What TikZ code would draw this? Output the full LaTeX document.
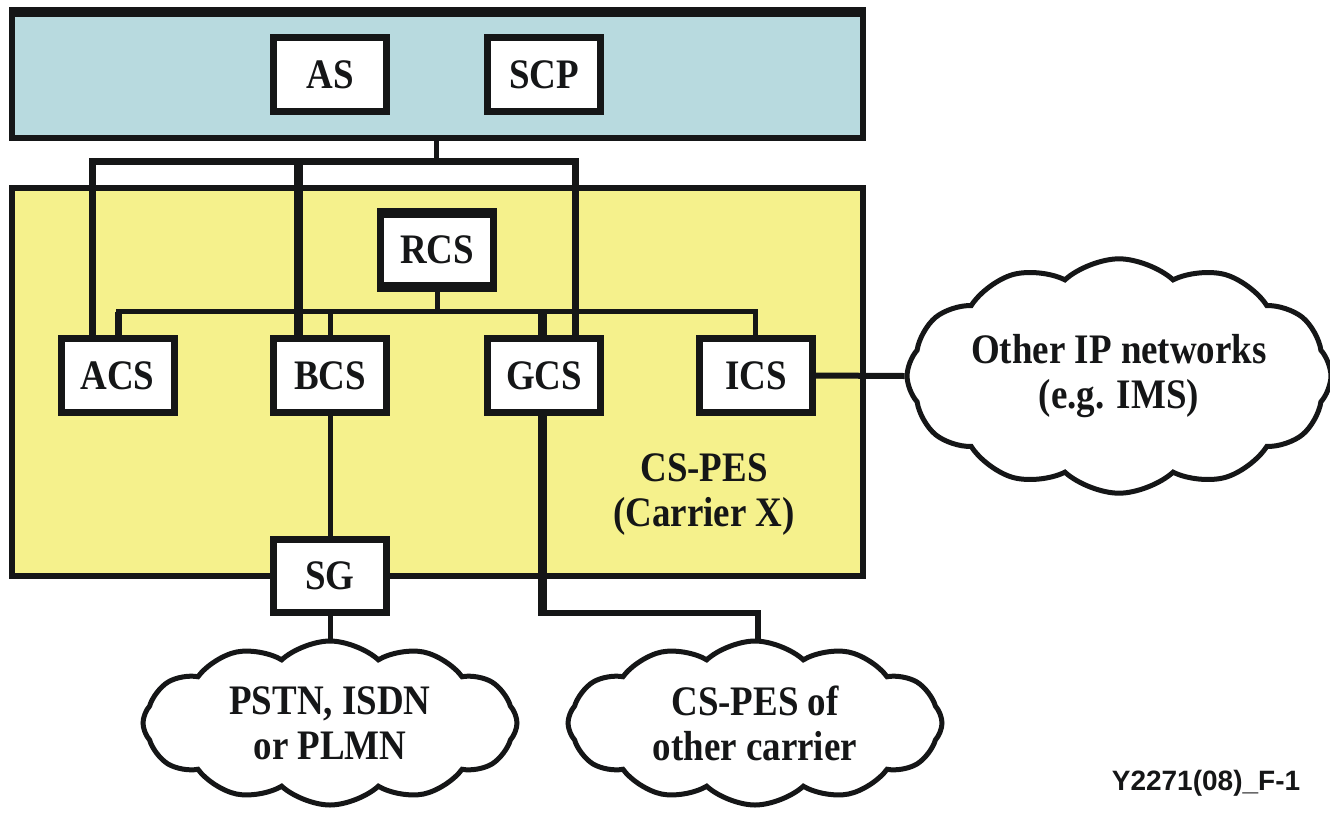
\documentclass[tikz,border=0pt]{standalone}
\usepackage{fontspec}
\setmainfont{Liberation Serif}[FakeStretch=0.88]
\newfontfamily\codefont{Liberation Sans}
\usetikzlibrary{shapes.symbols}

\definecolor{ink}{HTML}{151617}
\definecolor{skyfill}{HTML}{B8DADF}
\definecolor{pesfill}{HTML}{F5F18C}

\begin{document}
\begin{tikzpicture}[x=1pt,y=-1pt,
  every node/.style={font=\fontsize{42}{45}\selectfont\bfseries, text=ink},
  area/.style={draw=ink, line width=6pt, minimum width=851pt, inner sep=0pt},
  unit/.style={draw=ink, fill=white, line width=7pt, minimum width=113pt,
    minimum height=74pt, inner sep=0pt},
  netcloud/.style={cloud, draw=ink, fill=white, line width=5pt, cloud puffs=12,
    cloud puff arc=85, aspect=2.1, inner sep=0pt, align=center},
  link/.style={draw=ink, line width=5pt},
]
\useasboundingbox (0,0) rectangle (1330,815);

% service layer on top
\node[area, fill=skyfill, minimum height=128pt] (svc) at (437.5,74) {};
\fill[ink] (svc.north west) rectangle ([yshift=-10pt]svc.north east);
\node[unit] (as)  at (330,74.5) {AS};
\node[unit] (scp) at (544,74.5) {SCP};

% emulation subsystem
\node[area, fill=pesfill, minimum height=388pt] (pes) at (437.5,382) {};
\node[unit, minimum height=77pt] (rcs) at (437,250) {};
\fill[ink] (rcs.north west) rectangle ([yshift=-10pt]rcs.north east);
\fill[ink] (rcs.south west) rectangle ([yshift=10pt]rcs.south east);
\node at (rcs.center) {RCS};
\node[unit] (acs) at (117.5,375.5) {ACS};
\node[unit] (bcs) at (330,375.5) {BCS};
\node[unit] (gcs) at (544,375.5) {GCS};
\node[unit] (ics) at (756,375.5) {ICS};
\node[unit, minimum height=73pt] (sg) at (330,576) {SG};
\node[align=center] (pesname) at (704,495) {CS-PES\\(Carrier X)};

% neighbouring networks
\node[netcloud, minimum width=395pt, minimum height=172pt] (ipnet) at (1119,376)
  {Other IP networks\\(e.g. IMS)};
\node[netcloud, minimum width=374pt, minimum height=164pt] (pstn) at (330,723)
  {PSTN, ISDN\\or PLMN};
\node[netcloud, minimum width=374pt, minimum height=164pt] (other) at (755,723)
  {CS-PES of\\other carrier};

% bus from the service layer
\coordinate (hubA) at (436.5,161.5);
\coordinate (busL) at (92.5,161.5);
\coordinate (busM) at (298,161.5);
\coordinate (busR) at (575,161.5);
\draw[link] (svc.south -| hubA) -- (hubA);
\draw[draw=ink, line width=7pt] (acs.north -| busL) -- (busL) -- (busR) -- (gcs.north -| busR);
\draw[draw=ink, line width=9pt] (busM) -- (bcs.north -| busM);

% bus from the RCS
\coordinate (hubB) at (437,311.5);
\coordinate (rbusL) at (118,311.5);
\coordinate (rbusR) at (755,311.5);
\coordinate (rbusB) at (330,311.5);
\coordinate (rbusG) at (542,311.5);
\draw[link] (rcs.south) -- (hubB);
\draw[link] (acs.north -| rbusL) -- (rbusL) -- (rbusR) -- (ics.north -| rbusR);
\draw[draw=ink, line width=7pt] (rbusL) -- (acs.north -| rbusL);
\draw[link] (rbusB) -- (bcs.north -| rbusB);
\draw[draw=ink, line width=9pt] (rbusG) -- (gcs.north -| rbusG);

% links to the outside
\draw[draw=ink, line width=6pt] (ics.east) -- (ipnet.west);
\draw[link] (bcs.south) -- (sg.north);
\draw[link] (sg.south) -- (pstn.north);
\coordinate (gDown) at (542,613);
\coordinate (gRight) at (758,613);
\draw[draw=ink, line width=9pt] (gcs.south -| gDown) -- ([yshift=-3pt]gDown);
\draw[draw=ink, line width=6pt] (gDown) -- (gRight) -- (gRight |- other.north);

\node[font=\codefont\fontsize{28}{30}\selectfont\bfseries, anchor=base] (code)
  at (1206,790) {Y2271(08)\_F-1};
\end{tikzpicture}
\end{document}
